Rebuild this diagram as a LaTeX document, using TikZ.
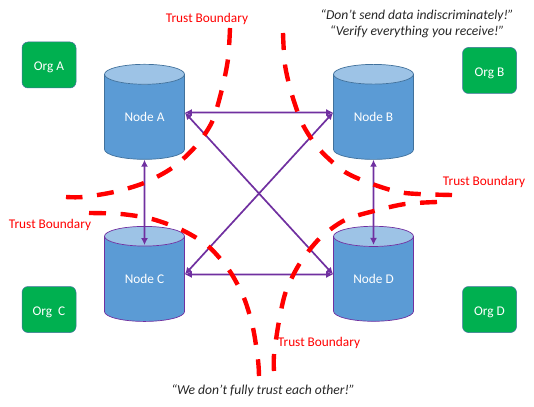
\documentclass[tikz,border=0pt]{standalone}
\usepackage{fontspec}
\usepackage{xcolor}
\setmainfont{Carlito}
\usetikzlibrary{shapes.geometric, arrows.meta, calc}
\definecolor{orgfill}{HTML}{00B050}
\definecolor{dbbody}{HTML}{5B9BD5}
\definecolor{dbtop}{HTML}{9DC3E6}
\definecolor{dbline}{HTML}{41719C}
\definecolor{linkcol}{HTML}{7030A0}
\tikzset{
  org/.style={rectangle, rounded corners=6pt, draw=dbline, line width=0.5pt, fill=orgfill,
              minimum width=54pt, minimum height=46pt, inner sep=0pt, text=white,
              text height=12pt, text depth=0pt, font=\fontsize{13.3}{15}\selectfont},
  db/.style={cylinder, shape border rotate=90, aspect=0.5, draw=dbline, line width=0.7pt,
             cylinder uses custom fill, cylinder body fill=dbbody, cylinder end fill=dbtop,
             minimum width=80pt, minimum height=95pt, inner sep=0pt, text=white, font=\fontsize{13.3}{15}\selectfont},
  dbp/.style={db, draw=linkcol},
  lnk/.style={{Latex[length=7pt,width=7pt]}-{Latex[length=7pt,width=7pt]}, draw=linkcol, line width=1.7pt},
  bound/.style={draw=red, line width=4.4pt, dash pattern=on 17pt off 14.6pt},
  tb/.style={text=red, inner sep=0pt, font=\fontsize{13.3}{15}\selectfont},
  quot/.style={text=black!85, inner sep=0pt, align=center, font=\fontsize{13.6}{16}\selectfont\itshape}
}
\begin{document}
\begin{tikzpicture}[x=1pt, y=-1pt]
\useasboundingbox (0,0) rectangle (534,406);
\node[org] (oa) at (49,65) {Org A};
\node[org] (ob) at (489.5,70.5) {Org B};
\node[org] (oc) at (49,309.5) {Org\ \ C};
\node[org] (od) at (489.5,309.5) {Org D};
\node[db] (na) at (144.5,117) {Node A};
\node[db] (nb) at (373.5,117) {Node B};
\node[dbp] (nc) at (144.5,279) {Node C};
\node[dbp] (nd) at (373.5,279) {Node D};
\coordinate (ae) at ($(na.east)+(0,4.5pt)$);
\coordinate (bw) at ($(nb.west)+(0,4.5pt)$);
\coordinate (ce) at ($(nc.east)+(0,4.5pt)$);
\coordinate (dw) at ($(nd.west)+(0,4.5pt)$);
\coordinate (ctop) at ($(nc.north)+(0,-19pt)$);
\coordinate (dtop) at ($(nd.north)+(0,-19pt)$);
\draw[lnk] (ae) -- (bw);
\draw[lnk] (ce) -- (dw);
\draw[lnk] (ae) -- (dw);
\draw[lnk] (ce) -- (bw);
\draw[lnk] (na.south) -- (ctop);
\draw[lnk] (nb.south) -- (dtop);
% boundaries
\draw[bound] plot[smooth] coordinates {(230,28) (228,59) (222,89) (212,122) (195,147) (172,168) (144,183) (114,192) (83,197) (66,197)};
\draw[bound] plot[smooth] coordinates {(283,33) (285,65) (292,95) (303,125) (320,150) (345,172) (375,185) (405,193) (452,195)};
\draw[bound] plot[smooth] coordinates {(437,202) (405,204) (374,211) (345,220) (320,238) (300,263) (286,291) (279,321) (274,355) (274,371)};
\draw[bound] plot[smooth] coordinates {(89,213) (121,214) (152,219) (182,230) (208,246) (229,270) (244,298) (253,328) (258,360) (259,376)};
\node[tb] (t1) at (207,19) {Trust Boundary};
\node[tb] (t2) at (484,182) {Trust Boundary};
\node[tb] (t3) at (50,225) {Trust Boundary};
\node[tb] (t4) at (319,343) {Trust Boundary};
\node[quot] (q1) at (417,23.5) {“Don’t send data indiscriminately!”\\“Verify everything you receive!”};
\node[quot] (q2) at (263,391) {“We don’t fully trust each other!”};
\end{tikzpicture}
\end{document}
